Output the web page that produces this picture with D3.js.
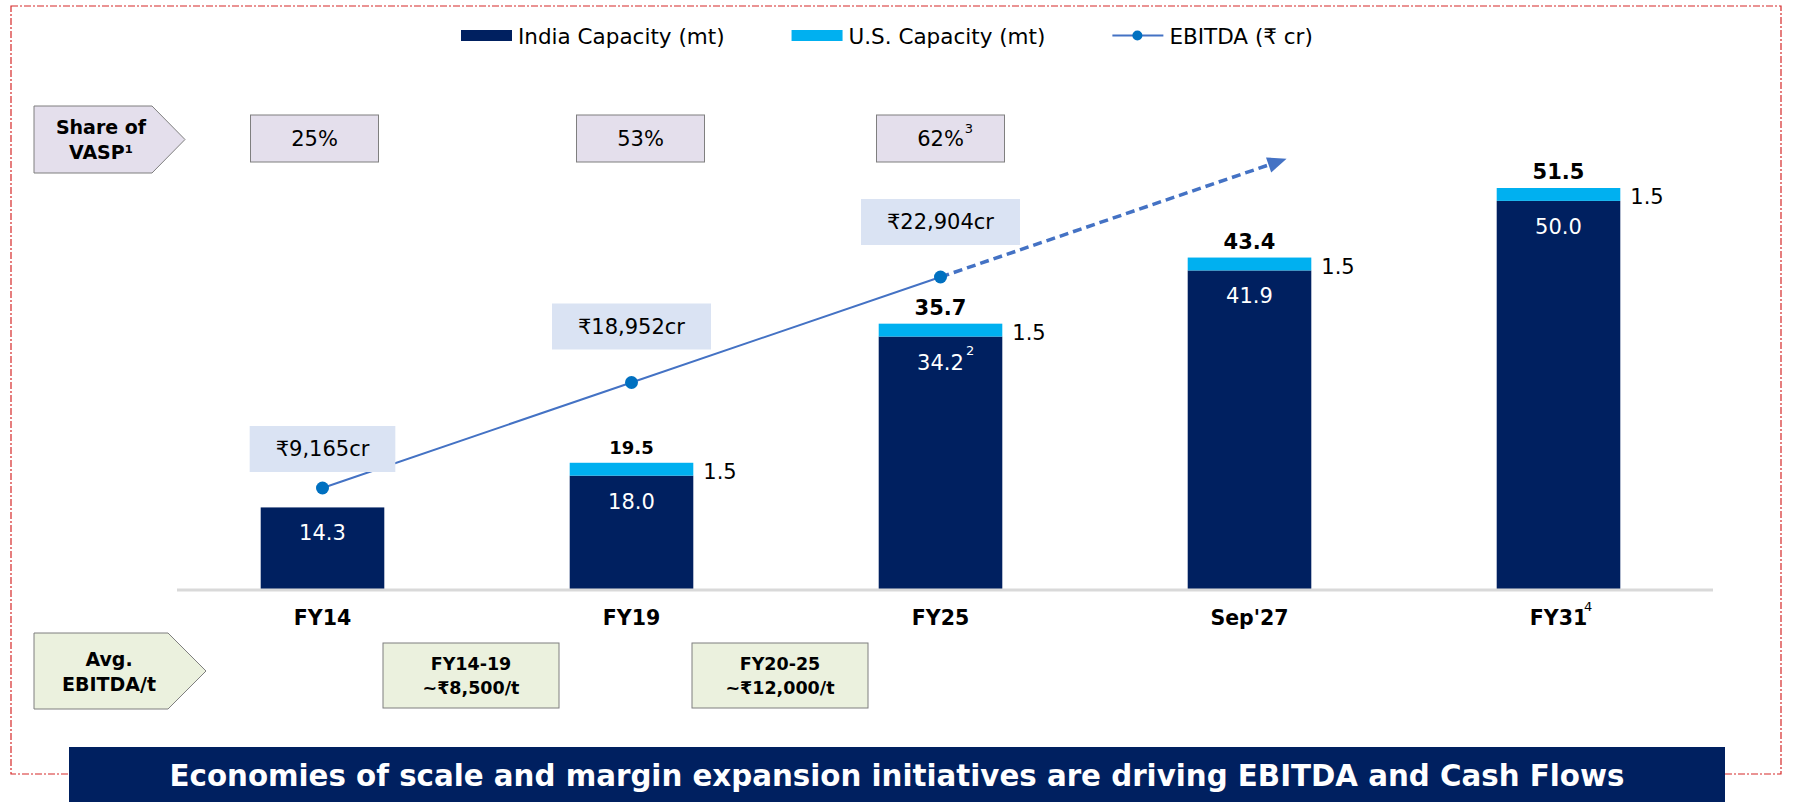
<!DOCTYPE html>
<html>
<head>
<meta charset="utf-8">
<script src="https://cdn.jsdelivr.net/npm/d3@7"></script>
<style>
  html, body { margin: 0; padding: 0; background: #fff; }
  svg { display: block; font-family: "DejaVu Sans", Verdana, sans-serif; }
</style>
</head>
<body>
<svg id="chart" width="1793" height="802"></svg>
<script>
// capacity (mt) by period
const categories = ['FY14', 'FY19', 'FY25', "Sep'27", 'FY31'];
const indiaCapacity = [14.3, 18.0, 34.2, 41.9, 50.0];
const usCapacity = [0, 1.5, 1.5, 1.5, 1.5];

// EBITDA (Rs cr), only for the reported years
const ebitdaCategories = ['FY14', 'FY19', 'FY25'];
const ebitdaValues = [9165, 18952, 22904];

// share of value added products
const vaspCategories = ['FY14', 'FY19', 'FY25'];
const vaspShare = [25, 53, 62];

// average EBITDA per tonne between periods
const avgPeriods = ['FY14-19', 'FY20-25'];
const avgSpans = [['FY14', 'FY19'], ['FY19', 'FY25']];
const avgEbitdaPerTonne = [8500, 12000];

const seriesNames = ['India Capacity (mt)', 'U.S. Capacity (mt)', 'EBITDA (\u20b9 cr)'];
const titleText = 'Economies of scale and margin expansion initiatives are driving EBITDA and Cash Flows';

const NAVY = '#002060', SKY = '#00b0f0', LINE = '#4472c4', DOT = '#0070c0';
const FONT = '"DejaVu Sans", Verdana, sans-serif';

let svg = d3.select('#chart');

/*
 * Dashed frame round the slide area.
 */
svg.append('rect')
  .attr('x', 11).attr('y', 6)
  .attr('width', 1770).attr('height', 768)
  .style('fill', 'none')
  .style('stroke', '#d62828')
  .style('stroke-width', 1.2)
  .style('stroke-dasharray', '7,2,2,2');

/*
 * Scales.
 */
let x = d3.scaleBand().domain(categories)
  .range([168, 1713]).paddingInner(0.6).paddingOuter(0.3);
let y = d3.scaleLinear().domain([4.8, 51.5]).range([589, 188]);
// the EBITDA line is drawn as a trend, one step per reported year
let trendY = d3.scaleLinear().domain([0, ebitdaValues.length - 1]).range([488, 277]);

let cx = c => x(c) + x.bandwidth() / 2;
let fmt1 = d3.format('.1f');
let fmtComma = d3.format(',');

/*
 * Legend.
 */
let legend = svg.append('g');
let lx = 461;
seriesNames.forEach((name, i) => {
  if (i < 2) {
    legend.append('rect')
      .attr('x', lx).attr('y', 30)
      .attr('width', 51).attr('height', 11)
      .style('fill', i == 0 ? NAVY : SKY);
  } else {
    legend.append('line')
      .attr('x1', lx).attr('x2', lx + 51)
      .attr('y1', 35.5).attr('y2', 35.5)
      .style('stroke', LINE).style('stroke-width', 2);
    legend.append('circle')
      .attr('cx', lx + 25).attr('cy', 35.5).attr('r', 5)
      .style('fill', DOT);
  }
  let t = legend.append('text')
    .attr('x', lx + 57).attr('y', 36)
    .attr('dominant-baseline', 'central')
    .style('font-size', '21.5px')
    .style('fill', '#000')
    .text(name);
  lx += 57 + t.node().getComputedTextLength() + 67;
});

/*
 * Row labels (arrow shaped).
 */
function arrow_box(x0, y0, x1, tip, y1, fill, lines) {
  let ym = (y0 + y1) / 2;
  svg.append('path')
    .attr('d', `M${x0},${y0}L${x1},${y0}L${tip},${ym}L${x1},${y1}L${x0},${y1}Z`)
    .style('fill', fill)
    .style('stroke', '#7f7f7f')
    .style('stroke-width', 1);
  lines.forEach((s, k) => {
    svg.append('text')
      .attr('x', (x0 + x1) / 2 + 8)
      .attr('y', ym + (k - (lines.length - 1) / 2) * 25)
      .attr('text-anchor', 'middle')
      .attr('dominant-baseline', 'central')
      .style('font-size', '19px')
      .style('font-weight', 'bold')
      .text(s);
  });
}

arrow_box(34, 106, 152, 185, 173, '#e4dfec', ['Share of', 'VASP\u00b9']);
arrow_box(34, 633, 168, 206, 709, '#ebf1de', ['Avg.', 'EBITDA/t']);

/*
 * VASP share boxes.
 */
let vaspNudge = [-8, 9, 0];
vaspCategories.forEach((c, i) => {
  let g = svg.append('g');
  let mx = cx(c) + vaspNudge[i];
  g.append('rect')
    .attr('x', mx - 64).attr('y', 115)
    .attr('width', 128).attr('height', 47)
    .style('fill', '#e4dfec')
    .style('stroke', '#7f7f7f');
  let t = g.append('text')
    .attr('x', mx).attr('y', 139)
    .attr('text-anchor', 'middle')
    .attr('dominant-baseline', 'central')
    .style('font-size', '21px')
    .text(vaspShare[i] + '%');
  if (i == 2) {
    let w = t.node().getComputedTextLength();
    g.append('text')
      .attr('x', mx + w / 2 + 1).attr('y', 133)
      .style('font-size', '13px')
      .text('3');
  }
});

/*
 * Stacked bars.
 */
let bars = svg.append('g');
categories.forEach((c, i) => {
  let india = indiaCapacity[i];
  let total = india + usCapacity[i];
  let x0 = x(c), bw = x.bandwidth();

  bars.append('rect')
    .attr('x', x0).attr('y', y(india))
    .attr('width', bw).attr('height', y.range()[0] - y(india))
    .style('fill', NAVY);

  let inner = bars.append('text')
    .attr('x', cx(c)).attr('y', y(india) + 33)
    .attr('text-anchor', 'middle')
    .style('font-size', '21px')
    .style('fill', '#fff')
    .text(fmt1(india));

  if (c == 'FY25') {
    let w = inner.node().getComputedTextLength();
    bars.append('text')
      .attr('x', cx(c) + w / 2 + 2).attr('y', y(india) + 18)
      .style('font-size', '13px')
      .style('fill', '#fff')
      .text('2');
  }

  if (usCapacity[i] > 0) {
    bars.append('rect')
      .attr('x', x0).attr('y', y(total))
      .attr('width', bw).attr('height', y(india) - y(total))
      .style('fill', SKY);

    bars.append('text')
      .attr('x', x0 + bw + 10)
      .attr('y', (y(india) + y(total)) / 2 + 3)
      .attr('dominant-baseline', 'central')
      .style('font-size', '21px')
      .text(fmt1(usCapacity[i]));

    bars.append('text')
      .attr('x', cx(c)).attr('y', y(total) - 9)
      .attr('text-anchor', 'middle')
      .style('font-size', i == 1 ? '18px' : '21px')
      .style('font-weight', 'bold')
      .text(fmt1(total));
  }
});

/*
 * X axis.
 */
let axis = svg.append('g')
  .attr('transform', 'translate(0,590)')
  .call(d3.axisBottom(x).tickSize(0).tickPadding(20));
axis.select('.domain')
  .attr('d', `M177,0H${x.range()[1]}`)
  .style('stroke', '#d9d9d9').style('stroke-width', 3);
axis.selectAll('.tick text')
  .style('font-family', FONT)
  .style('font-size', '20.5px')
  .style('font-weight', 'bold')
  .style('fill', '#000');
axis.selectAll('.tick').filter(d => d == 'FY31').each(function () {
  let w = d3.select(this).select('text').node().getComputedTextLength();
  d3.select(this).append('text')
    .attr('x', w / 2 + 1).attr('y', 21)
    .style('font-family', FONT)
    .style('font-size', '13px')
    .style('fill', '#000')
    .text('4');
});

/*
 * EBITDA trend line.
 */
let pts = ebitdaCategories.map((c, i) => [cx(c), trendY(i)]);
let line = svg.append('g');

line.append('path')
  .attr('d', d3.line()(pts))
  .style('fill', 'none')
  .style('stroke', LINE)
  .style('stroke-width', 2);

// projected part: dashed, ending in an arrow head
let last = ebitdaValues.length - 1;
let reach = 1.12;
let p0 = pts[last];
let tip = [p0[0] + reach * x.step(), trendY(last + reach)];
let ang = Math.atan2(tip[1] - p0[1], tip[0] - p0[0]);
let end = [tip[0] - 12 * Math.cos(ang), tip[1] - 12 * Math.sin(ang)];

line.append('path')
  .attr('d', d3.line()([p0, end]))
  .style('fill', 'none')
  .style('stroke', LINE)
  .style('stroke-width', 3.5)
  .style('stroke-dasharray', '9,5');

line.append('path')
  .attr('d', 'M0,0L-19,-8L-19,8Z')
  .attr('transform', `translate(${tip[0]},${tip[1]}) rotate(${ang * 180 / Math.PI})`)
  .style('fill', LINE);

line.selectAll('circle').data(pts).join('circle')
  .attr('cx', d => d[0]).attr('cy', d => d[1]).attr('r', 6.5)
  .style('fill', DOT);

// value boxes above the points
let labelLift = [39, 56, 55];
ebitdaValues.forEach((v, i) => {
  let g = svg.append('g');
  let bg = g.append('rect').style('fill', '#dae3f3');
  let t = g.append('text')
    .attr('x', pts[i][0]).attr('y', pts[i][1] - labelLift[i])
    .attr('text-anchor', 'middle')
    .attr('dominant-baseline', 'central')
    .style('font-size', '21px')
    .text('\u20b9' + fmtComma(v) + 'cr');
  let w = t.node().getComputedTextLength() + 52;
  bg.attr('x', pts[i][0] - w / 2).attr('y', pts[i][1] - labelLift[i] - 23)
    .attr('width', w).attr('height', 46);
});

/*
 * Average EBITDA per tonne boxes.
 */
avgPeriods.forEach((p, i) => {
  let mid = (cx(avgSpans[i][0]) + cx(avgSpans[i][1])) / 2 - 6;
  svg.append('rect')
    .attr('x', mid - 88).attr('y', 643)
    .attr('width', 176).attr('height', 65)
    .style('fill', '#ebf1de')
    .style('stroke', '#7f7f7f');
  [p, '~\u20b9' + fmtComma(avgEbitdaPerTonne[i]) + '/t'].forEach((s, k) => {
    svg.append('text')
      .attr('x', mid).attr('y', 664 + k * 24)
      .attr('text-anchor', 'middle')
      .attr('dominant-baseline', 'central')
      .style('font-size', '17.5px')
      .style('font-weight', 'bold')
      .text(s);
  });
});

/*
 * Bottom banner.
 */
svg.append('rect')
  .attr('x', 69).attr('y', 747)
  .attr('width', 1656).attr('height', 60)
  .style('fill', NAVY);
svg.append('text')
  .attr('x', 897).attr('y', 776)
  .attr('text-anchor', 'middle')
  .attr('dominant-baseline', 'central')
  .style('font-size', '29.3px')
  .style('font-weight', 'bold')
  .style('fill', '#fff')
  .text(titleText);
</script>
</body>
</html>
